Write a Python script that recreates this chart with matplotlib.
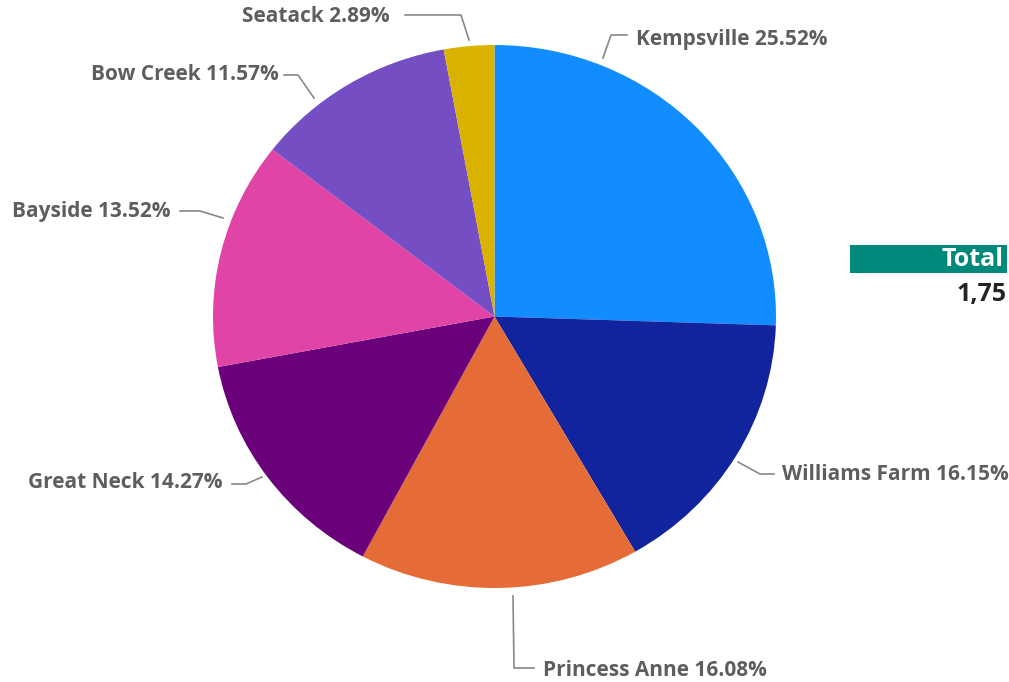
import matplotlib.pyplot as plt

# data
districts = ['Kempsville', 'Williams Farm', 'Princess Anne', 'Great Neck', 'Bayside', 'Bow Creek', 'Seatack']
shares = [25.52, 16.15, 16.08, 14.27, 13.52, 11.57, 2.89]
colors = ['#118DFF', '#12239E', '#E66C37', '#6B007B', '#E044A7', '#744EC2', '#D9B300']
total_label = '1,75'

W, H = 1009, 682
cx, cy, rx, ry = 494.5, 316.5, 281.5, 271.5

# leader lines (pixel coords) and label anchors, in same order as districts
leaders = [
    [(603, 58), (611, 35), (627, 35)],
    [(738, 462), (760, 474), (774, 474)],
    [(513, 596), (514, 668), (534, 668)],
    [(262, 477), (246, 484), (232, 484)],
    [(223, 218), (200, 211), (180, 211)],
    [(314, 98), (298, 75), (284, 75)],
    [(469, 40), (461, 15), (405, 15)],
]
label_pos = [(636, 40, 'left'), (782, 474, 'left'), (543, 670, 'left'),
             (223, 483, 'right'), (171, 211, 'right'), (279, 75, 'right'),
             (390, 17, 'right')]

fig = plt.figure(figsize=(W / 100, H / 100), dpi=100)
ax = fig.add_axes([(cx - rx) / W, (H - cy - ry) / H, 2 * rx / W, 2 * ry / H])
ax.pie(shares, colors=colors, startangle=90, counterclock=False,
       wedgeprops={'linewidth': 0})
ax.set_aspect('auto')
ax.set_xlim(-1, 1)
ax.set_ylim(-1, 1)
ax.axis('off')

ov = fig.add_axes([0, 0, 1, 1], facecolor='none')
ov.set_xlim(0, W)
ov.set_ylim(H, 0)
ov.axis('off')

txt_color = '#605E5C'
for name, share, pts, (tx, ty, ha) in zip(districts, shares, leaders, label_pos):
    xs, ys = zip(*pts)
    ov.plot(xs, ys, color='#8a8886', lw=1.2)
    ov.text(tx, ty, f'{name} {share:.2f}%', ha=ha, va='center', fontsize=15,
            fontweight='bold', color=txt_color, family='Open Sans')

ov.add_patch(plt.Rectangle((850, 245), 157, 28, color='#00897B', lw=0))
ov.text(1003, 259, 'Total', ha='right', va='center', color='white', fontsize=18,
        fontweight='bold', family='Open Sans')
ov.text(1006, 295, total_label, ha='right', va='center', color='#252423', fontsize=18,
        fontweight='bold', family='Open Sans')

fig.savefig('out.png', dpi=100, facecolor='white')
